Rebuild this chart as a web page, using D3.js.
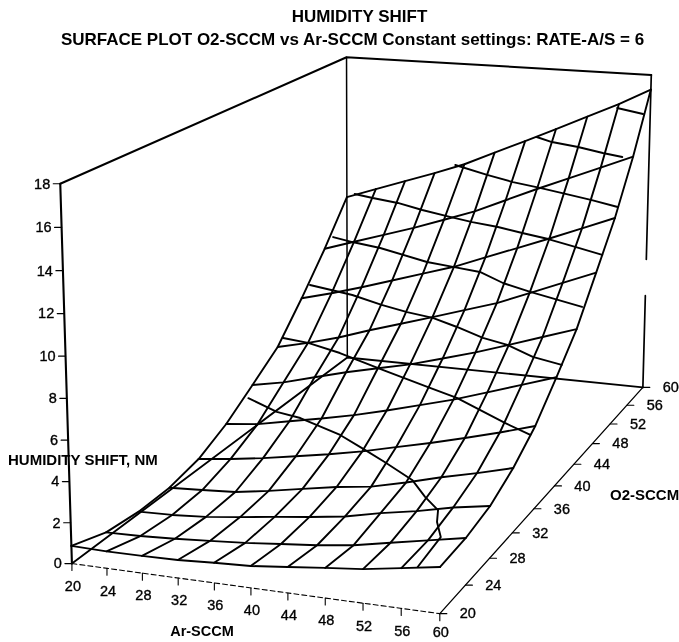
<!DOCTYPE html><html><head><meta charset="utf-8"><script src="https://cdn.jsdelivr.net/npm/d3@7"></script>
<style>html,body{margin:0;background:#fff}svg{display:block}text{font-family:'Liberation Sans',Arial,sans-serif;fill:#000}</style></head><body><svg id="c" width="679" height="642"></svg><script>
const title="HUMIDITY SHIFT";
const subtitle="SURFACE PLOT O2-SCCM vs Ar-SCCM Constant settings: RATE-A/S = 6";
const arTicks=[20,24,28,32,36,40,44,48,52,56,60];
const o2Ticks=[20,24,28,32,36,40,44,48,52,56,60];
const zTicks=[0,2,4,6,8,10,12,14,16,18];
// surface heights: one row per O2 tick, one column per Ar tick
const surface=[
[0.87,0.83,0.84,0.87,0.97,1.05,1.24,1.43,1.61,1.89,2.18],
[0.28,0.32,0.41,0.53,0.66,0.83,1.00,1.23,1.58,1.92,2.26],
[0.10,0.15,0.27,0.48,0.71,0.93,1.17,1.56,1.88,2.28,2.57],
[0.15,0.24,0.35,0.62,0.94,1.25,1.48,1.90,2.38,2.80,3.26],
[0.52,0.73,0.98,1.28,1.59,1.95,2.37,2.79,3.25,3.73,4.26],
[1.32,1.51,1.86,2.20,2.58,3.02,3.50,3.98,4.55,5.13,5.71],
[2.43,2.76,3.23,3.69,4.09,4.48,4.98,5.49,6.07,6.66,7.25],
[3.58,3.99,4.47,5.05,5.58,6.12,6.67,7.22,7.93,8.64,9.35],
[5.45,5.90,6.41,6.95,7.50,8.04,8.72,9.39,10.07,10.77,11.48],
[7.48,8.04,8.59,9.14,9.75,10.37,11.14,11.91,12.64,13.37,14.11],
[9.75,10.36,10.96,11.56,12.21,13.01,13.80,14.61,15.43,16.25,17.18]];
// the second family of crossing traces: O2 plane, Ar values, heights
const traceO2=[22,34,40,46,50,54,58,60,60];
const traceAr=[
[58.4,58.3,58.7,56.3],
[28.0,31.4,34.2,38.9,41.8,44.1,47.3,48.8,50.3],
[27.3,30.4,34.3,36.4,39.5,45.2,48.4,54.1,57.1],
[25.9,29.7,31.3,35.0,38.2,41.4,44.4,47.6,50.6,53.7,57.2],
[25.8,28.3,31.9,37.9,41.2,44.6,47.5,50.9,57.3],
[25.6,28.0,31.3,34.5,38.1,41.0,44.3,47.4,50.7,54.1,57.5],
[36.1,40.3,43.7,47.2,50.1,53.9,57.2],
[45.5,47.5,50.9,54.1,56.6],
[55.8,59.1]];
const traceZ=[
[4.11,3.55,2.86,1.31],
[4.70,4.14,3.96,3.31,2.68,2.17,1.41,0.61,0.01],
[6.34,6.21,5.84,5.56,5.17,4.47,4.09,3.04,2.55],
[7.79,7.55,7.45,7.05,6.79,6.60,6.23,5.77,5.52,5.00,4.72],
[9.61,9.42,9.22,8.66,8.51,8.36,7.86,7.50,6.93],
[11.26,11.11,10.94,10.65,10.38,10.19,10.03,9.80,9.58,9.26,8.94],
[12.53,12.09,11.79,11.57,11.37,11.10,10.82],
[14.08,13.85,13.67,13.42,13.27],
[16.03,15.78]];
const camera=[3.4488530e+2,3.7288492e+2,-1.3907568e+1,7.1925008e+1,1.8008315e+1,-1.0572225e+2,-3.8661195e+2,5.6354684e+2,-5.2305204e-2,2.8069395e-1,-3.7215892e-2,1];

const ux=d3.scaleLinear().domain([20,60]).range([0,1]);
const uy=d3.scaleLinear().domain([20,60]).range([0,1]);
const uz=d3.scaleLinear().domain([0,18]).range([0,1]);
function proj(a,o,z){const u=ux(a),v=uy(o),w=uz(z),p=camera,d=p[8]*u+p[9]*v+p[10]*w+p[11];
  return [(p[0]*u+p[1]*v+p[2]*w+p[3])/d,(p[4]*u+p[5]*v+p[6]*w+p[7])/d];}
const svg=d3.select('#c');
svg.append('defs').append('filter').attr('id','scan').append('feGaussianBlur').attr('stdDeviation',0.35);
const root=svg.append('g').attr('filter','url(#scan)');
const line=d3.line();
const g=root.append('g').attr('fill','none').attr('stroke','#000').attr('stroke-linejoin','round').attr('stroke-linecap','round');
const path=(pts,w,dash)=>g.append('path').attr('d',line(pts)).attr('stroke-width',w).attr('stroke-dasharray',dash||null);
const [a0,a1]=ux.domain(),[o0,o1]=uy.domain(),[z0,z1]=uz.domain();
// frame
path([proj(a0,o0,z0),proj(a0,o0,z1)],2.1);
path([proj(a0,o0,z1),proj(a0,o1,z1),proj(a1,o1,z1)],2);
path([proj(a0,o1,z1),proj(a0,o1,z0)],1.5);
path([proj(a0,o0,z0),proj(a0,o1,z0),proj(a1,o1,z0)],1.9);
path([proj(a1,o1,z1),proj(a1,o1,7.5)],1.7);
path([proj(a1,o1,5.4),proj(a1,o1,z0)],1.7);
path([proj(a0,o0,z0),proj(a1,o0,z0)],1.1,'5 3');
path([proj(a1,o0,z0),proj(a1,o1,z0)],1.3);
// mesh
surface.forEach((r,j)=>path(r.map((z,i)=>proj(arTicks[i],o2Ticks[j],z)),1.9));
arTicks.forEach((a,i)=>path(surface.map((r,j)=>proj(a,o2Ticks[j],r[i])),1.9));
traceO2.forEach((o,k)=>path(traceAr[k].map((a,i)=>proj(a,o,traceZ[k][i])),1.9));
// ticks + labels
const lab=root.append('g').attr('font-size',14.5).attr('stroke','#000').attr('stroke-width',0.35);
zTicks.forEach(t=>{const[x,y]=proj(a0,o0,t);path([[x-7,y],[x,y]],1.2);
  lab.append('text').attr('x',x-10).attr('y',y+1).attr('text-anchor','end').attr('dominant-baseline','middle').text(t);});
arTicks.forEach(t=>{const[x,y]=proj(t,o0,z0);path([[x,y],[x,y+7]],1.1);
  lab.append('text').attr('x',x+1).attr('y',Math.min(y+23.5,633)).attr('text-anchor','middle').attr('dominant-baseline','middle').text(t);});
o2Ticks.forEach(t=>{const[x,y]=proj(a1,t,z0);path([[x,y],[x+7,y]],1.1);
  lab.append('text').attr('x',x+28).attr('y',y+1).attr('text-anchor','middle').attr('dominant-baseline','middle').text(t);});
const bold=(t,x,y,a,s)=>root.append('text').attr('x',x).attr('y',y).attr('text-anchor',a).attr('dominant-baseline','middle').attr('font-size',s).attr('font-weight','bold').text(t);
bold(title,359.5,18,'middle',17);
bold(subtitle,352.5,41,'middle',17);
bold("HUMIDITY SHIFT, NM",8,461,'start',15);
bold("Ar-SCCM",202,632,'middle',14.5);
bold("O2-SCCM",610,496,'start',15);
</script></body></html>
